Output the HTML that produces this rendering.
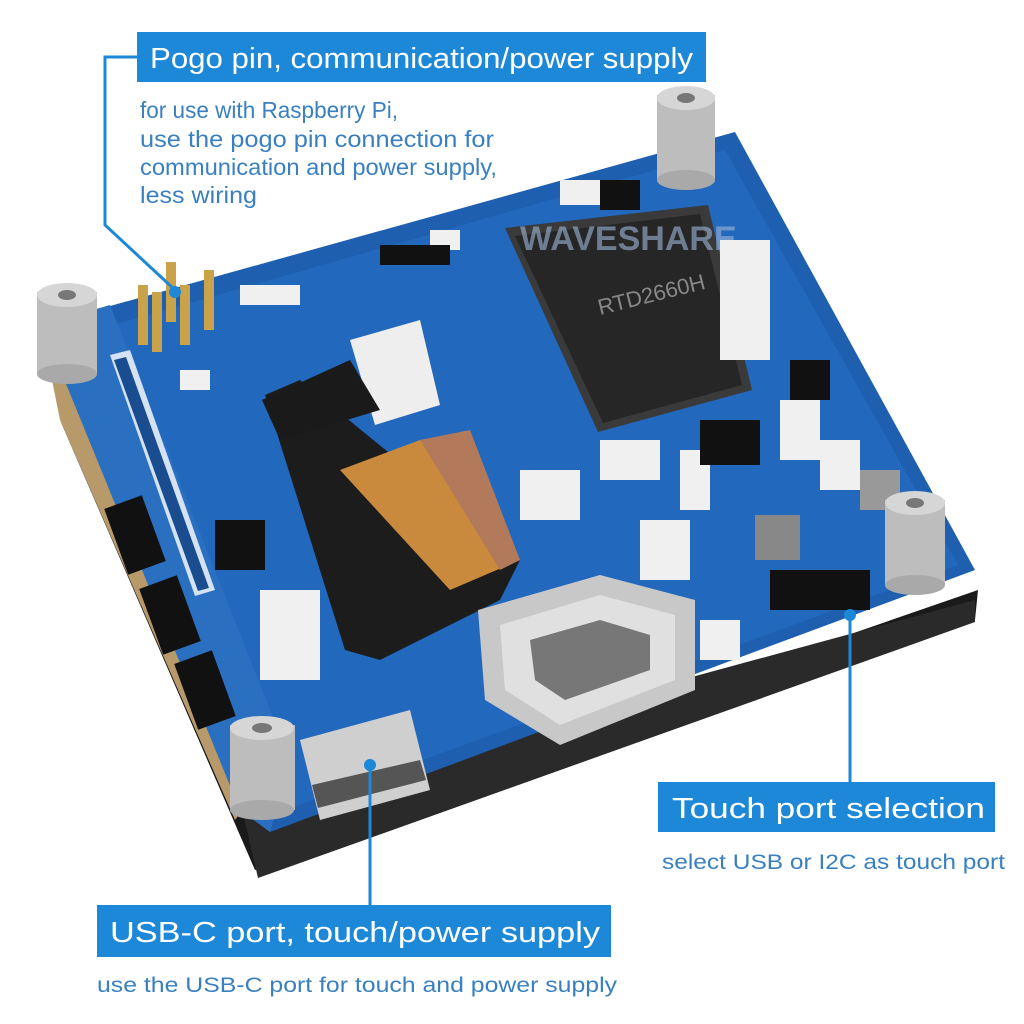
<!DOCTYPE html>
<html><head><meta charset="utf-8"><style>
html,body{margin:0;padding:0;background:#fff;}
svg{display:block}
text{font-family:"Liberation Sans","DejaVu Sans",sans-serif}
</style></head><body>
<svg width="1024" height="1024" viewBox="0 0 1024 1024" xmlns="http://www.w3.org/2000/svg">
<rect width="1024" height="1024" fill="#fff"/>
<polygon points="60,420 255,870 975,620 978,590 270,835" fill="#1a1a1a"/>
<polygon points="240,800 258,878 975,622 975,600" fill="#2a2a2a"/>
<polygon points="42,330 70,360 250,800 235,820 60,420" fill="#b89a6a"/>
<polygon points="42,325 735,132 975,570 270,832" fill="#1e5fb0"/>
<polygon points="60,340 725,150 958,565 280,812" fill="#2268bc"/>
<polygon points="42,325 110,305 290,760 270,832 240,810" fill="#2a6fc0"/>
<rect x="115" y="500" width="40" height="70" fill="#111" transform="rotate(-20 135 535)"/>
<rect x="150" y="580" width="40" height="70" fill="#111" transform="rotate(-20 170 615)"/>
<rect x="185" y="655" width="40" height="70" fill="#111" transform="rotate(-20 205 690)"/>
<polygon points="110,355 130,350 215,590 195,596" fill="#fff" opacity="0.8"/>
<polygon points="114,360 126,357 209,588 198,591" fill="#1a4d90"/>
<polygon points="505,228 708,205 752,390 598,432" fill="#3a3a3a"/>
<polygon points="515,236 700,214 742,385 603,423" fill="#262626"/>
<text x="600" y="315" fill="#888" font-size="22" transform="rotate(-14 600 315)">RTD2660H</text>
<text x="520" y="250" fill="#9fb7d8" font-size="34" font-weight="bold" opacity="0.6">WAVESHARE</text>
<polygon points="265,395 300,380 520,560 500,600 380,660 345,650" fill="#1c1c1c"/>
<polygon points="340,470 420,440 520,560 450,590" fill="#c98a3e"/>
<polygon points="420,440 470,430 520,560 500,570" fill="#b27a5a"/>
<polygon points="350,340 420,320 440,405 375,425" fill="#eee"/>
<polygon points="262,400 350,360 380,410 280,440" fill="#1a1a1a"/>
<g fill="#f0f0f0">
<rect x="240" y="285" width="60" height="20"/><rect x="180" y="370" width="30" height="20"/>
<rect x="600" y="440" width="60" height="40"/><rect x="680" y="450" width="30" height="60"/>
<rect x="520" y="470" width="60" height="50"/><rect x="640" y="520" width="50" height="60"/>
<rect x="720" y="240" width="50" height="120"/><rect x="780" y="400" width="40" height="60"/>
<rect x="260" y="590" width="60" height="90"/><rect x="560" y="180" width="40" height="25"/>
<rect x="430" y="230" width="30" height="20"/>
<rect x="820" y="440" width="40" height="50"/><rect x="700" y="620" width="40" height="40"/>
</g>
<g fill="#111">
<rect x="215" y="520" width="50" height="50"/><rect x="700" y="420" width="60" height="45"/>
<rect x="790" y="360" width="40" height="40"/><rect x="770" y="570" width="100" height="40"/>
<rect x="380" y="245" width="70" height="20"/><rect x="600" y="180" width="40" height="30"/>
</g>
<rect x="755" y="515" width="45" height="45" fill="#888"/>
<rect x="860" y="470" width="40" height="40" fill="#999"/>
<polygon points="478,610 600,575 695,600 695,690 560,745 485,700" fill="#c8c8c8"/>
<polygon points="500,625 600,595 675,615 675,680 560,725 505,690" fill="#e0e0e0"/>
<polygon points="530,640 600,620 650,635 650,670 565,700 535,680" fill="#777"/>
<polygon points="300,740 410,710 430,790 320,820" fill="#cfcfcf"/>
<polygon points="312,785 420,760 426,780 318,808" fill="#555"/>
<g fill="#c9a24a">
<rect x="138" y="285" width="10" height="60"/><rect x="152" y="292" width="10" height="60"/>
<rect x="166" y="262" width="10" height="60"/><rect x="180" y="285" width="10" height="60"/>
<rect x="204" y="270" width="10" height="60"/>
</g>
<g>
<rect x="657" y="95" width="58" height="85" fill="#bdbdbd"/><ellipse cx="686" cy="180" rx="29" ry="10" fill="#a9a9a9"/><ellipse cx="686" cy="98" rx="29" ry="12" fill="#d6d6d6"/><ellipse cx="686" cy="98" rx="9" ry="5" fill="#777"/>
<rect x="37" y="292" width="60" height="82" fill="#bdbdbd"/><ellipse cx="67" cy="374" rx="30" ry="10" fill="#a9a9a9"/><ellipse cx="67" cy="295" rx="30" ry="12" fill="#d6d6d6"/><ellipse cx="67" cy="295" rx="9" ry="5" fill="#777"/>
<rect x="885" y="500" width="60" height="85" fill="#bdbdbd"/><ellipse cx="915" cy="585" rx="30" ry="10" fill="#a9a9a9"/><ellipse cx="915" cy="503" rx="30" ry="12" fill="#d6d6d6"/><ellipse cx="915" cy="503" rx="9" ry="5" fill="#777"/>
<rect x="230" y="725" width="65" height="85" fill="#bdbdbd"/><ellipse cx="262" cy="810" rx="32" ry="10" fill="#a9a9a9"/><ellipse cx="262" cy="728" rx="32" ry="12" fill="#d6d6d6"/><ellipse cx="262" cy="728" rx="10" ry="5" fill="#777"/>
</g>
<g stroke="#1e88d8" stroke-width="3" fill="none">
<polyline points="137,57 105,57 105,225 175,290"/>
<line x1="370" y1="765" x2="370" y2="905"/>
<line x1="850" y1="615" x2="850" y2="782"/>
</g>
<g fill="#1e88d8"><circle cx="175" cy="292" r="6"/><circle cx="370" cy="765" r="6"/><circle cx="850" cy="615" r="6"/></g>
<rect x="137" y="32" width="569" height="50" fill="#1e88d8"/>
<text x="150" y="68" fill="#fff" font-size="29" textLength="543" lengthAdjust="spacingAndGlyphs">Pogo pin, communication/power supply</text>
<g fill="#3a80c0" font-size="23">
<text x="140" y="118" textLength="258" lengthAdjust="spacingAndGlyphs">for use with Raspberry Pi,</text>
<text x="140" y="147" textLength="354" lengthAdjust="spacingAndGlyphs">use the pogo pin connection for</text>
<text x="140" y="175" textLength="357" lengthAdjust="spacingAndGlyphs">communication and power supply,</text>
<text x="140" y="203" textLength="117" lengthAdjust="spacingAndGlyphs">less wiring</text>
</g>
<rect x="658" y="782" width="337" height="50" fill="#1e88d8"/>
<text x="672" y="818" fill="#fff" font-size="29" textLength="313" lengthAdjust="spacingAndGlyphs">Touch port selection</text>
<text x="662" y="869" fill="#3a80c0" font-size="21" textLength="343" lengthAdjust="spacingAndGlyphs">select USB or I2C as touch port</text>
<rect x="97" y="905" width="514" height="52" fill="#1e88d8"/>
<text x="110" y="942" fill="#fff" font-size="29" textLength="490" lengthAdjust="spacingAndGlyphs">USB-C port, touch/power supply</text>
<text x="97" y="992" fill="#3a80c0" font-size="21" textLength="520" lengthAdjust="spacingAndGlyphs">use the USB-C port for touch and power supply</text>
</svg>
</body></html>
